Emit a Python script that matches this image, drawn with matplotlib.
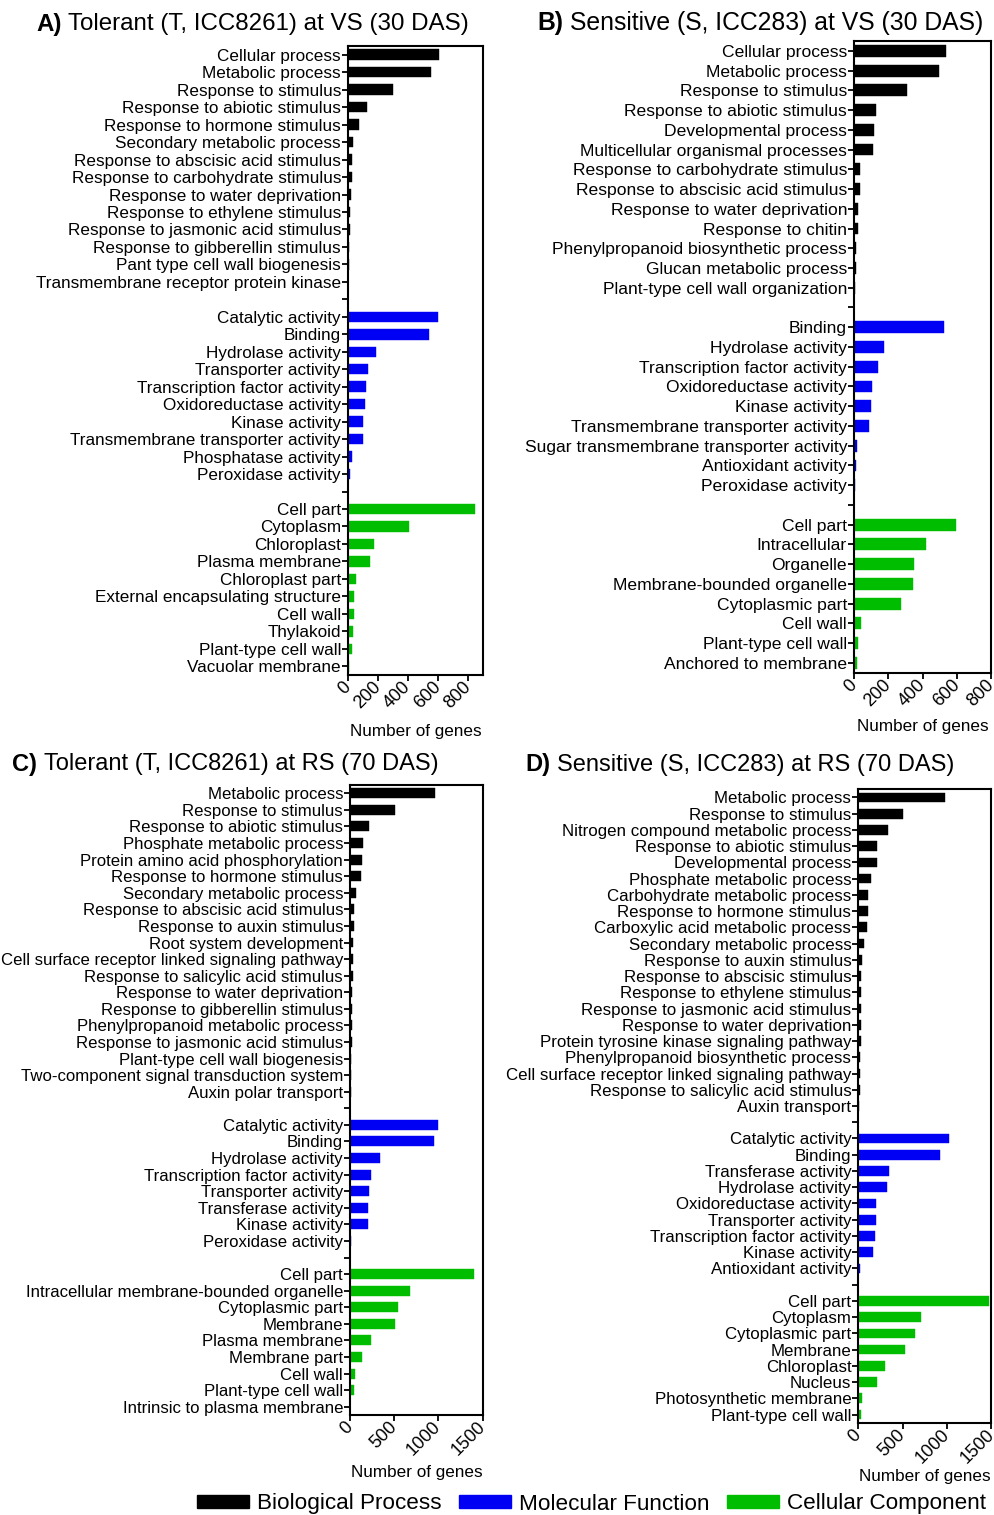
import matplotlib
matplotlib.use("Agg")
import matplotlib.pyplot as plt
from matplotlib.patches import Patch
from matplotlib.text import Annotation

plt.rcParams['font.family'] = ['Liberation Sans', 'DejaVu Sans']

BP_COLOR = 'black'
MF_COLOR = '#0000f5'
CC_COLOR = '#00bd00'

# panel A - tolerant at VS
a_bp_labels = ["Cellular process", "Metabolic process", "Response to stimulus",
               "Response to abiotic stimulus", "Response to hormone stimulus",
               "Secondary metabolic process", "Response to abscisic acid stimulus",
               "Response to carbohydrate stimulus", "Response to water deprivation",
               "Response to ethylene stimulus", "Response to jasmonic acid stimulus",
               "Response to gibberellin stimulus", "Pant type cell wall biogenesis",
               "Transmembrane receptor protein kinase"]
a_bp_values = [605, 553, 300, 127, 73, 31, 28, 25, 23, 15, 12, 8, 5, 3]
a_mf_labels = ["Catalytic activity", "Binding", "Hydrolase activity", "Transporter activity",
               "Transcription factor activity", "Oxidoreductase activity", "Kinase activity",
               "Transmembrane transporter activity", "Phosphatase activity",
               "Peroxidase activity"]
a_mf_values = [598, 540, 187, 133, 122, 116, 102, 100, 27, 13]
a_cc_labels = ["Cell part", "Cytoplasm", "Chloroplast", "Plasma membrane", "Chloroplast part",
               "External encapsulating structure", "Cell wall", "Thylakoid",
               "Plant-type cell wall", "Vacuolar membrane"]
a_cc_values = [845, 409, 171, 147, 56, 42, 38, 31, 24, 9]

# panel B - sensitive at VS
b_bp_labels = ["Cellular process", "Metabolic process", "Response to stimulus",
               "Response to abiotic stimulus", "Developmental process",
               "Multicellular organismal processes", "Response to carbohydrate stimulus",
               "Response to abscisic acid stimulus", "Response to water deprivation",
               "Response to chitin", "Phenylpropanoid biosynthetic process",
               "Glucan metabolic process", "Plant-type cell wall organization"]
b_bp_values = [533, 492, 306, 128, 116, 109, 33, 33, 23, 23, 14, 12, 6]
b_mf_labels = ["Binding", "Hydrolase activity", "Transcription factor activity",
               "Oxidoreductase activity", "Kinase activity",
               "Transmembrane transporter activity",
               "Sugar transmembrane transporter activity", "Antioxidant activity",
               "Peroxidase activity"]
b_mf_values = [523, 176, 140, 103, 97, 89, 15, 10, 6]
b_cc_labels = ["Cell part", "Intracellular", "Organelle", "Membrane-bounded organelle",
               "Cytoplasmic part", "Cell wall", "Plant-type cell wall",
               "Anchored to membrane"]
b_cc_values = [593, 419, 349, 341, 271, 41, 23, 19]

# panel C - tolerant at RS
c_bp_labels = ["Metabolic process", "Response to stimulus", "Response to abiotic stimulus",
               "Phosphate metabolic process", "Protein amino acid phosphorylation",
               "Response to hormone stimulus", "Secondary metabolic process",
               "Response to abscisic acid stimulus", "Response to auxin stimulus",
               "Root system development", "Cell surface receptor linked signaling pathway",
               "Response to salicylic acid stimulus", "Response to water deprivation",
               "Response to gibberellin stimulus", "Phenylpropanoid metabolic process",
               "Response to jasmonic acid stimulus", "Plant-type cell wall biogenesis",
               "Two-component signal transduction system", "Auxin polar transport"]
c_bp_values = [962, 513, 215, 151, 139, 128, 68, 49, 41, 38, 30, 30, 28, 26, 25, 24, 15, 10, 8]
c_mf_labels = ["Catalytic activity", "Binding", "Hydrolase activity",
               "Transcription factor activity", "Transporter activity",
               "Transferase activity", "Kinase activity", "Peroxidase activity"]
c_mf_values = [999, 950, 339, 238, 211, 208, 200, 13]
c_cc_labels = ["Cell part", "Intracellular membrane-bounded organelle", "Cytoplasmic part",
               "Membrane", "Plasma membrane", "Membrane part", "Cell wall",
               "Plant-type cell wall", "Intrinsic to plasma membrane"]
c_cc_values = [1399, 675, 547, 509, 241, 132, 60, 42, 5]

# panel D - sensitive at RS
d_bp_labels = ["Metabolic process", "Response to stimulus",
               "Nitrogen compound metabolic process", "Response to abiotic stimulus",
               "Developmental process", "Phosphate metabolic process",
               "Carbohydrate metabolic process", "Response to hormone stimulus",
               "Carboxylic acid metabolic process", "Secondary metabolic process",
               "Response to auxin stimulus", "Response to abscisic stimulus",
               "Response to ethylene stimulus", "Response to jasmonic acid stimulus",
               "Response to water deprivation", "Protein tyrosine kinase signaling pathway",
               "Phenylpropanoid biosynthetic process",
               "Cell surface receptor linked signaling pathway",
               "Response to salicylic acid stimulus", "Auxin transport"]
d_bp_values = [976, 500, 338, 207, 205, 143, 113, 111, 98, 68, 38, 35, 32, 32, 30, 26, 23, 22, 20, 12]
d_mf_labels = ["Catalytic activity", "Binding", "Transferase activity", "Hydrolase activity",
               "Oxidoreductase activity", "Transporter activity",
               "Transcription factor activity", "Kinase activity", "Antioxidant activity"]
d_mf_values = [1025, 920, 349, 320, 199, 196, 188, 169, 15]
d_cc_labels = ["Cell part", "Cytoplasm", "Cytoplasmic part", "Membrane", "Chloroplast",
               "Nucleus", "Photosynthetic membrane", "Plant-type cell wall"]
d_cc_values = [1468, 702, 642, 529, 301, 207, 45, 30]

W, H = 995, 1515
fig = plt.figure(figsize=(W / 100, H / 100), dpi=100)


def px_axes(left, right, top, bottom):
    return fig.add_axes([left / W, 1 - bottom / H, (right - left) / W, (bottom - top) / H])


def draw_panel(ax, groups, xmax, xticks, xlabel_xy, yfont):
    labels = []
    pos = 0
    for i, (labs, vals, col) in enumerate(groups):
        if i > 0:
            labels.append('')
            pos += 1
        ys = list(range(pos, pos + len(labs)))
        ax.barh(ys, vals, height=0.6, color=col, edgecolor=col, linewidth=0.3)
        labels += labs
        pos += len(labs)
    ax.set_yticks(range(len(labels)))
    ax.set_yticklabels(labels, fontsize=yfont)
    ax.set_ylim(len(labels) - 0.5, -0.5)
    ax.set_xlim(0, xmax)
    ax.set_xticks(xticks)
    ax.set_xticklabels([str(t) for t in xticks], fontsize=13, rotation=45,
                       ha='right', va='center', rotation_mode='anchor')
    ax.tick_params(axis='y', length=4, width=1.3, pad=1)
    ax.tick_params(axis='x', length=4, width=1.3, pad=3)
    for s in ax.spines.values():
        s.set_linewidth(1.5)
    ax.set_xlabel('Number of genes', fontsize=12.3)
    ax.xaxis.set_label_coords(xlabel_xy[0] / W, 1 - xlabel_xy[1] / H, transform=fig.transFigure)
    ax.xaxis.label.set_verticalalignment('center')


def panel_title(x, y, letter, rest, size):
    t = fig.text(x / W, 1 - y / H, letter, fontsize=size, fontweight='bold',
                 ha='left', va='center')
    fig.add_artist(Annotation(rest, xy=(1, 0.5), xycoords=t, xytext=(5, 0),
                              textcoords='offset points', fontsize=size,
                              ha='left', va='center', annotation_clip=False))


ax_a = px_axes(348, 483, 46, 675)
draw_panel(ax_a, [(a_bp_labels, a_bp_values, BP_COLOR),
                  (a_mf_labels, a_mf_values, MF_COLOR),
                  (a_cc_labels, a_cc_values, CC_COLOR)], 900, [0, 200, 400, 600, 800],
           (415.5, 731.7), 12.35)

ax_b = px_axes(854, 991.5, 41, 672.7)
draw_panel(ax_b, [(b_bp_labels, b_bp_values, BP_COLOR),
                  (b_mf_labels, b_mf_values, MF_COLOR),
                  (b_cc_labels, b_cc_values, CC_COLOR)], 800, [0, 200, 400, 600, 800],
           (923.3, 726.7), 12.6)

ax_c = px_axes(350, 482.7, 785, 1415)
draw_panel(ax_c, [(c_bp_labels, c_bp_values, BP_COLOR),
                  (c_mf_labels, c_mf_values, MF_COLOR),
                  (c_cc_labels, c_cc_values, CC_COLOR)], 1500, [0, 500, 1000, 1500],
           (416.8, 1473), 12.1)

ax_d = px_axes(858.3, 991.5, 789.3, 1422.7)
draw_panel(ax_d, [(d_bp_labels, d_bp_values, BP_COLOR),
                  (d_mf_labels, d_mf_values, MF_COLOR),
                  (d_cc_labels, d_cc_values, CC_COLOR)], 1500, [0, 500, 1000, 1500],
           (925, 1476.7), 12.2)

panel_title(36, 24, 'A)', 'Tolerant (T, ICC8261) at VS (30 DAS)', 17.4)
panel_title(537, 23, 'B)', 'Sensitive (S, ICC283) at VS (30 DAS)', 17.8)
panel_title(12, 764, 'C)', 'Tolerant (T, ICC8261) at RS (70 DAS)', 17)
panel_title(525, 765, 'D)', 'Sensitive (S, ICC283) at RS (70 DAS)', 17)

handles = [Patch(color=BP_COLOR, label='Biological Process'),
           Patch(color=MF_COLOR, label='Molecular Function'),
           Patch(color=CC_COLOR, label='Cellular Component')]
fig.legend(handles=handles, loc='center', bbox_to_anchor=(591.5 / W, 1 - 1504 / H),
           ncol=3, frameon=False, fontsize=16.2, handlelength=2.3, handleheight=0.45,
           handletextpad=0.35, columnspacing=0.8, borderaxespad=0, borderpad=0)

fig.savefig('out.png', dpi=100)
